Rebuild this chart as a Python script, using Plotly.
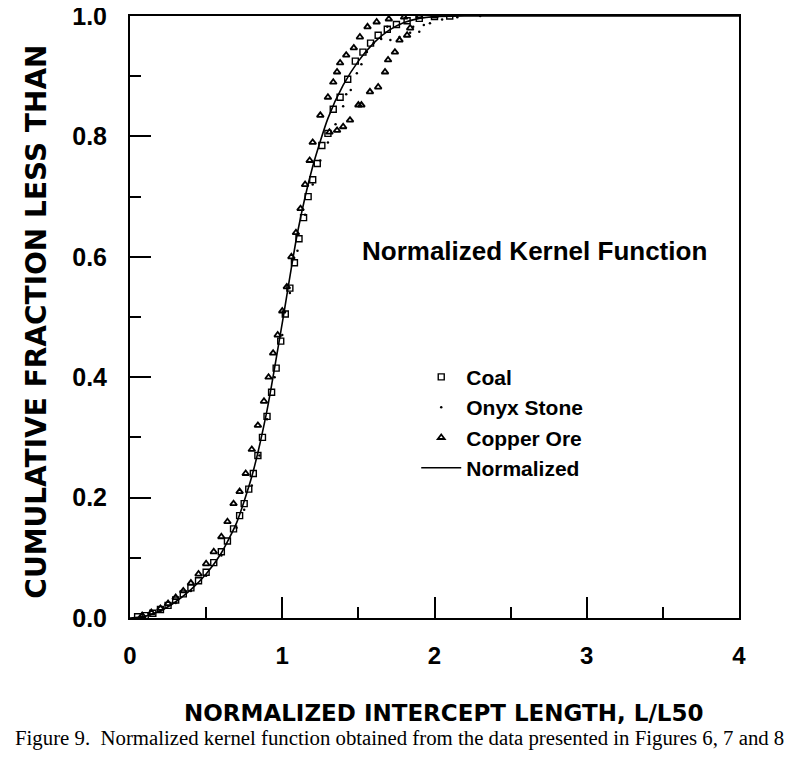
import plotly.graph_objects as go

# ---- data ----
norm_x = [0.0, 0.1, 0.2, 0.3, 0.4, 0.5, 0.6, 0.7, 0.8, 0.9, 1.0, 1.1, 1.2, 1.3, 1.4,
          1.5, 1.6, 1.7, 1.8, 1.9, 2.0, 2.2, 2.5, 3.0, 4.0]
norm_y = [0.0, 0.003, 0.012, 0.027, 0.047, 0.073, 0.108, 0.158, 0.235, 0.345, 0.49,
          0.64, 0.75, 0.83, 0.885, 0.925, 0.955, 0.976, 0.989, 0.996, 0.999, 1.0, 1.0, 1.0, 1.0]

coal_x = [0.05, 0.10, 0.15, 0.20, 0.25, 0.30, 0.35, 0.40, 0.45, 0.50, 0.55, 0.60, 0.64,
          0.68, 0.72, 0.75, 0.78, 0.81, 0.84, 0.87, 0.90, 0.93, 0.96, 0.99, 1.02, 1.05,
          1.08, 1.11, 1.14, 1.17, 1.20, 1.23, 1.26, 1.30, 1.335, 1.38, 1.43, 1.48, 1.53,
          1.58, 1.63, 1.69, 1.75, 1.82, 1.90, 2.00, 2.10]
coal_y = [0.002, 0.004, 0.008, 0.014, 0.021, 0.030, 0.040, 0.050, 0.062, 0.076, 0.092,
          0.110, 0.128, 0.148, 0.170, 0.190, 0.214, 0.240, 0.270, 0.300, 0.335, 0.375,
          0.415, 0.460, 0.505, 0.548, 0.590, 0.630, 0.665, 0.700, 0.728, 0.755, 0.785,
          0.805, 0.845, 0.865, 0.895, 0.925, 0.940, 0.955, 0.968, 0.978, 0.986, 0.992,
          0.996, 0.999, 1.0]

onyx_x = [0.10, 0.20, 0.30, 0.40, 0.50, 0.60, 0.70, 0.75, 0.80, 0.85, 0.90, 0.95, 1.00,
          1.05, 1.10, 1.15, 1.20, 1.25, 1.30, 1.35, 1.40, 1.42, 1.45, 1.49, 1.52, 1.556,
          1.60, 1.65, 1.69, 1.71, 1.77, 1.84, 1.86, 1.90, 1.93, 1.97, 2.05, 2.15, 2.30]
onyx_y = [0.002, 0.011, 0.025, 0.045, 0.070, 0.104, 0.150, 0.180, 0.220, 0.270, 0.330,
          0.400, 0.470, 0.540, 0.610, 0.670, 0.720, 0.760, 0.790, 0.820, 0.850, 0.870,
          0.877, 0.905, 0.920, 0.940, 0.955, 0.962, 0.982, 0.960, 0.965, 0.972, 0.982,
          0.974, 0.985, 0.988, 0.994, 0.998, 1.0]

copper_x = [0.08, 0.14, 0.20, 0.25, 0.30, 0.35, 0.40, 0.45, 0.50, 0.55, 0.60, 0.64, 0.68,
            0.72, 0.76, 0.80, 0.84, 0.88, 0.91, 0.94, 0.97, 1.00, 1.03, 1.06, 1.09, 1.12,
            1.15, 1.18, 1.20, 1.25, 1.30, 1.335, 1.36, 1.38, 1.42, 1.47, 1.51, 1.56, 1.62,
            1.70, 1.80, 1.90, 2.00,
            1.31, 1.36, 1.40, 1.445, 1.50, 1.52, 1.576, 1.63, 1.675, 1.695, 1.74, 1.77,
            1.82, 1.84]
copper_y = [0.004, 0.009, 0.016, 0.024, 0.034, 0.045, 0.058, 0.073, 0.090, 0.110, 0.135,
            0.160, 0.190, 0.210, 0.240, 0.280, 0.320, 0.360, 0.400, 0.440, 0.470, 0.510,
            0.550, 0.600, 0.640, 0.680, 0.720, 0.760, 0.790, 0.835, 0.865, 0.890, 0.907,
            0.922, 0.935, 0.947, 0.965, 0.982, 0.990, 0.995, 0.998, 1.0, 1.0,
            0.807, 0.810, 0.816, 0.827, 0.852, 0.852, 0.874, 0.882, 0.907, 0.927, 0.940,
            0.960, 0.968, 0.980]

x_ticks = [0, 1, 2, 3, 4]
y_ticks = [0.0, 0.2, 0.4, 0.6, 0.8, 1.0]
y_tick_text = ["0.0", "0.2", "0.4", "0.6", "0.8", "1.0"]

BOLD = "Liberation Sans"
WIDE = "DejaVu Sans"

fig = go.Figure()
fig.add_trace(go.Scatter(x=coal_x, y=coal_y, mode="markers", name="Coal",
                         marker=dict(symbol="square-open", size=6, color="black",
                                     line=dict(width=1.4, color="black"))))
fig.add_trace(go.Scatter(x=onyx_x, y=onyx_y, mode="markers", name="Onyx Stone",
                         marker=dict(symbol="circle", size=2.5, color="black")))
fig.add_trace(go.Scatter(x=copper_x, y=copper_y, mode="markers", name="Copper Ore",
                         marker=dict(symbol="triangle-up-open", size=6, color="black",
                                     line=dict(width=1.8, color="black"))))
fig.add_trace(go.Scatter(x=norm_x, y=norm_y, mode="lines", name="Normalized",
                         line=dict(color="black", width=1.6, shape="spline", smoothing=0.6)))

# the page body has an 8px margin, so figure pixel = page pixel - 8
fig.update_layout(
    width=800, height=762,
    margin=dict(l=122, r=69, t=8, b=152, autoexpand=False),
    paper_bgcolor="white", plot_bgcolor="white",
    showlegend=True,
    legend=dict(x=0.470, y=0.434, xanchor="left", yanchor="top",
                bgcolor="rgba(0,0,0,0)", borderwidth=0, itemwidth=40,
                font=dict(family=BOLD, size=21, color="black", weight="bold"),
                tracegroupgap=0),
    font=dict(family=BOLD, color="black"),
)

fig.update_xaxes(range=[0, 4], tickvals=x_ticks, ticktext=[str(v) for v in x_ticks],
                 showline=True, linecolor="black", linewidth=2, mirror=True,
                 ticks="inside", ticklen=21, tickwidth=2, tickcolor="black",
                 minor=dict(ticks="inside", ticklen=11, tickwidth=2, tickcolor="black", dtick=0.5),
                 showgrid=False, zeroline=False, ticklabelstandoff=15, automargin=False,
                 ticklabeloverflow="allow",
                 tickfont=dict(family=BOLD, size=24, color="black", weight="bold"))
fig.update_yaxes(range=[0, 1], tickvals=y_ticks, ticktext=y_tick_text,
                 showline=True, linecolor="black", linewidth=2, mirror=True,
                 ticks="inside", ticklen=21, tickwidth=2, tickcolor="black",
                 minor=dict(ticks="inside", ticklen=11, tickwidth=2, tickcolor="black", dtick=0.1),
                 showgrid=False, zeroline=False, ticklabelstandoff=16, automargin=False,
                 ticklabeloverflow="allow",
                 tickfont=dict(family=BOLD, size=25, color="black", weight="bold"))

fig.add_annotation(text="Normalized Kernel Function", x=2.654, y=0.61, xref="x", yref="y",
                   xanchor="center", yanchor="middle", showarrow=False,
                   font=dict(family=BOLD, size=26, color="black", weight="bold"))
fig.add_annotation(text="NORMALIZED INTERCEPT LENGTH, L/L50", x=0.514, y=-0.158,
                   xref="paper", yref="paper", xanchor="center", yanchor="middle",
                   showarrow=False,
                   font=dict(family=WIDE, size=23, color="black", weight="bold"))
fig.add_annotation(text="CUMULATIVE FRACTION LESS THAN", x=-0.153, y=0.492,
                   xref="paper", yref="paper", xanchor="center", yanchor="middle",
                   showarrow=False, textangle=-90,
                   font=dict(family=WIDE, size=28, color="black", weight="bold"))
fig.add_annotation(text="Figure 9.  Normalized kernel function obtained from the data presented in Figures 6, 7 and 8",
                   x=0.443, y=-0.199, xref="paper", yref="paper", xanchor="center",
                   yanchor="middle", showarrow=False,
                   font=dict(family="Liberation Serif", size=20.8, color="black"))

fig.write_html("out.html")
